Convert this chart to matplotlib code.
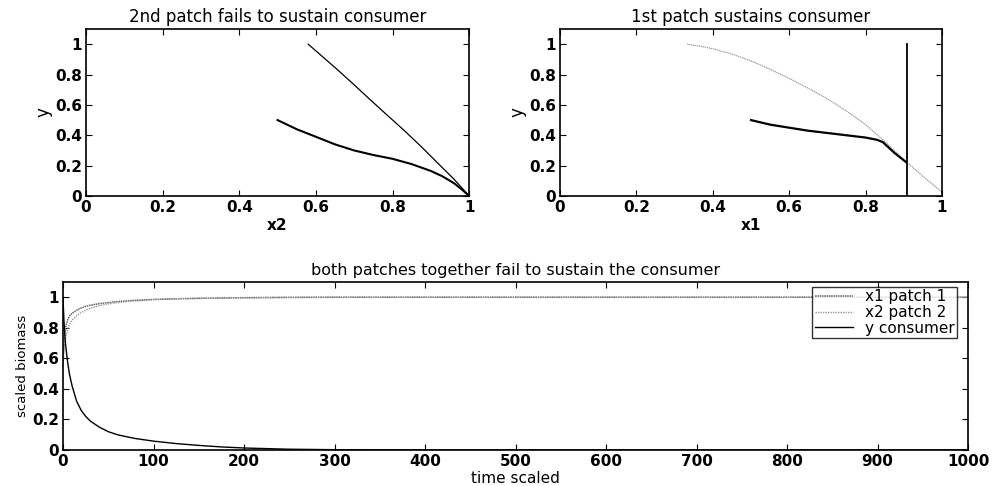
import numpy as np
import matplotlib
matplotlib.use("Agg")
import matplotlib.pyplot as plt

plt.rcParams['font.family'] = ['DejaVu Sans']

# top left: phase plane x2 vs y (patch 2 alone)
p2_upper_x = [0.58, 0.62, 0.655, 0.70, 0.741, 0.785, 0.829, 0.875, 0.916, 0.96, 1.0]
p2_upper_y = [1.0, 0.912, 0.835, 0.732, 0.636, 0.535, 0.435, 0.325, 0.222, 0.112, 0.0]
p2_lower_x = [0.5, 0.55, 0.6, 0.65, 0.7, 0.75, 0.8, 0.85, 0.9, 0.93, 0.96, 0.98, 1.0]
p2_lower_y = [0.5, 0.44, 0.39, 0.34, 0.30, 0.27, 0.245, 0.21, 0.165, 0.13, 0.085, 0.045, 0.0]

# top right: phase plane x1 vs y (patch 1 alone)
p1_grey_x = [0.333, 0.37, 0.4, 0.45, 0.5, 0.55, 0.6, 0.65, 0.7, 0.75, 0.8, 0.85, 0.9, 0.95, 1.0]
p1_grey_y = [1.0, 0.985, 0.97, 0.935, 0.89, 0.835, 0.775, 0.71, 0.64, 0.56, 0.47, 0.36, 0.24, 0.13, 0.025]
p1_black_x = [0.5, 0.55, 0.6, 0.65, 0.7, 0.75, 0.8, 0.83, 0.845, 0.86, 0.875, 0.89, 0.905]
p1_black_y = [0.5, 0.47, 0.45, 0.43, 0.415, 0.40, 0.385, 0.37, 0.355, 0.32, 0.285, 0.255, 0.225]
p1_vert_x = [0.908, 0.908]
p1_vert_y = [0.0, 1.0]

# bottom: time series
t = [0, 0.5, 1, 2, 3, 5, 7, 10, 15, 20, 25, 30, 40, 50, 60, 70, 80, 100, 125, 150, 175, 200, 250, 300, 400, 600, 800, 1000]
x1 = [0.55, 0.62, 0.68, 0.76, 0.81, 0.85, 0.875, 0.895, 0.915, 0.93, 0.94, 0.948, 0.958, 0.965, 0.972, 0.976, 0.98, 0.986, 0.99, 0.993, 0.995, 0.997, 0.999, 1.0, 1.0, 1.0, 1.0, 1.0]
x2 = [0.6, 0.63, 0.65, 0.7, 0.74, 0.79, 0.82, 0.85, 0.88, 0.9, 0.915, 0.928, 0.945, 0.956, 0.965, 0.971, 0.976, 0.984, 0.99, 0.993, 0.995, 0.997, 0.999, 1.0, 1.0, 1.0, 1.0, 1.0]
y = [1.0, 0.92, 0.85, 0.75, 0.68, 0.58, 0.5, 0.42, 0.32, 0.26, 0.22, 0.19, 0.15, 0.12, 0.1, 0.087, 0.075, 0.058, 0.042, 0.03, 0.02, 0.013, 0.005, 0.002, 0.0, 0.0, 0.0, 0.0]

fig = plt.figure(figsize=(9.94, 4.86), dpi=100)
ax1 = fig.add_axes([0.0865, 0.5967, 0.3855, 0.3436])
ax2 = fig.add_axes([0.5634, 0.5967, 0.3843, 0.3436])
ax3 = fig.add_axes([0.0634, 0.0741, 0.9105, 0.3457])

for ax in (ax1, ax2, ax3):
    ax.tick_params(direction='in', top=True, right=True, labelsize=11, length=4, pad=3)
    for s in ax.spines.values():
        s.set_linewidth(1.2)
    ax.set_ylim(0, 1.1)
    ax.set_yticks([0, 0.2, 0.4, 0.6, 0.8, 1])
    ax.set_yticklabels(['0', '0.2', '0.4', '0.6', '0.8', '1'])

for ax in (ax1, ax2):
    ax.set_xlim(0, 1)
    ax.set_xticks([0, 0.2, 0.4, 0.6, 0.8, 1])
    ax.set_xticklabels(['0', '0.2', '0.4', '0.6', '0.8', '1'])
    ax.set_ylabel('y', fontsize=12, labelpad=2)

for ax in (ax1, ax2, ax3):
    for lbl in ax.get_xticklabels() + ax.get_yticklabels():
        lbl.set_fontweight('bold')

ax1.plot(p2_upper_x, p2_upper_y, color='black', lw=0.9)
ax1.plot(p2_lower_x, p2_lower_y, color='black', lw=1.5)
ax1.set_title('2nd patch fails to sustain consumer', fontsize=12, pad=5)
ax1.set_xlabel('x2', fontsize=11, fontweight='bold', labelpad=2)

ax2.plot(p1_grey_x, p1_grey_y, color='#999999', lw=0.9, ls=(0, (1, 0.6)))
ax2.plot(p1_black_x, p1_black_y, color='black', lw=1.6)
ax2.plot(p1_vert_x, p1_vert_y, color='black', lw=1.3)
ax2.set_title('1st patch sustains consumer', fontsize=12, pad=5)
ax2.set_xlabel('x1', fontsize=11, fontweight='bold', labelpad=2)

ax3.plot(t, x1, color='#666666', lw=1.1, ls=(0, (1, 0.5)), label='x1 patch 1')
ax3.plot(t, x2, color='#999999', lw=1.0, ls=(0, (1, 0.8)), label='x2 patch 2')
ax3.plot(t, y, color='black', lw=1.0, label='y consumer')
ax3.set_xlim(0, 1000)
ax3.set_xticks(np.arange(0, 1001, 100))
ax3.set_title('both patches together fail to sustain the consumer', fontsize=11.5, pad=5)
ax3.set_xlabel('time scaled', fontsize=11, labelpad=1)
ax3.set_ylabel('scaled biomass', fontsize=9.5, labelpad=2)
leg = ax3.legend(loc='upper right', bbox_to_anchor=(0.988, 0.97), borderaxespad=0,
                 fontsize=11, frameon=True, fancybox=False, handlelength=2.5,
                 borderpad=0.15, labelspacing=0.05, handletextpad=0.8)
leg.get_frame().set_edgecolor('black')
leg.get_frame().set_linewidth(1.0)

fig.savefig('out.png', dpi=100)
